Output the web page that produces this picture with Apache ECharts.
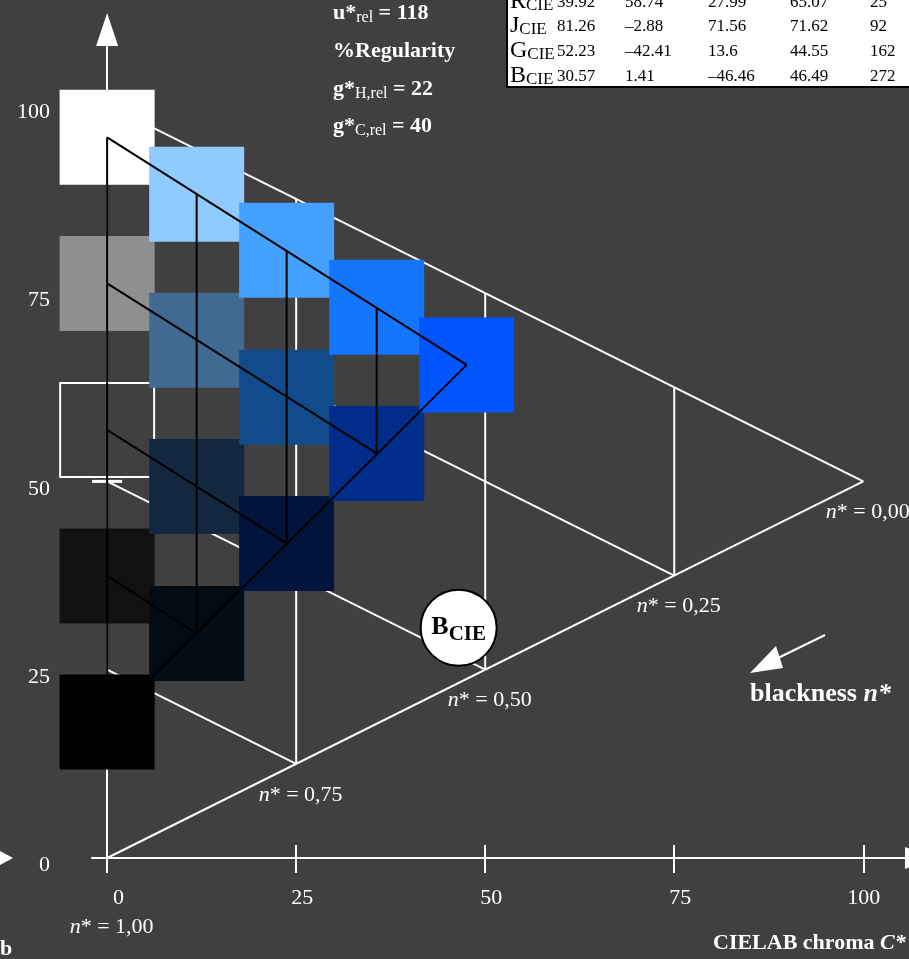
<!DOCTYPE html>
<html>
<head>
<meta charset="utf-8">
<style>
  html, body { margin: 0; padding: 0; background: #404040; }
  #chart { width: 909px; height: 959px; }
</style>
<script src="https://cdn.jsdelivr.net/npm/echarts@6/dist/echarts.min.js"></script>
</head>
<body>
<div id="chart"></div>
<script>
// ---- data ----
var chromaTicks = [0, 25, 50, 75, 100];
var lightnessTicks = [0, 25, 50, 75, 100];

// reference lattice (white), each segment [C*1, L*1, C*2, L*2]
var latticeSegments = [
  [0, 100, 100, 50],
  [0, 75, 75, 37.5],
  [0, 50, 50, 25],
  [0, 25, 25, 12.5],
  [0, 0, 100, 50],
  [25, 12.5, 25, 87.5],
  [50, 25, 50, 75],
  [75, 37.5, 75, 62.5]
];
var blacknessPoints = [[100, 50], [75, 37.5], [50, 25], [25, 12.5], [0, 0]];
var blacknessLabels = ['0,00', '0,25', '0,50', '0,75', '1,00'];
var midGreyMark = [[0, 50]];

// colour samples, one list per chroma column
var sampleChroma = [0, 11.84, 23.74, 35.65, 47.55];
var sampleLightness = [
  [95.68, 76.29, 56.84, 37.45, 18.06],
  [88.11, 68.73, 49.34, 29.81],
  [80.68, 61.16, 41.77],
  [73.11, 53.72],
  [65.47]
];
var sampleColors = [
  ['#ffffff', '#8f8f8f', null, '#111111', '#000000'],
  ['#8fcbff', '#416a93', '#13273f', '#020c12'],
  ['#44a1ff', '#124b8c', '#00143c'],
  ['#1476ff', '#002d8a'],
  ['#0055ff']
];

// CIE table
var tableNames = ['R', 'J', 'G', 'B'];
var tableL = [39.92, 81.26, 52.23, 30.57];
var tableA = [58.74, -2.88, -42.41, 1.41];
var tableB = [27.99, 71.56, 13.6, -46.46];
var tableC = [65.07, 71.62, 44.55, 46.49];
var tableH = [25, 92, 162, 272];

// ---- build ----
var serif = '"Liberation Serif", "Times New Roman", serif';
var bg = '#404040';

var squares = [];
sampleChroma.forEach(function (c, ci) {
  sampleLightness[ci].forEach(function (l, ri) {
    var col = sampleColors[ci][ri];
    squares.push({
      value: [c, l],
      symbolSize: col ? 95 : 94,
      itemStyle: col ? { color: col, opacity: 1 } : { color: bg, opacity: 1, borderColor: '#fff', borderWidth: 2 }
    });
  });
});

// black lattice through the sample centres
var sampleSegments = [];
for (var r = 0; r < 4; r++) {
  var last = 4 - r;
  sampleSegments.push([sampleChroma[0], sampleLightness[0][r], sampleChroma[last], sampleLightness[last][r]]);
}
for (var c = 0; c < 4; c++) {
  var colL = sampleLightness[c];
  sampleSegments.push([sampleChroma[c], colL[0], sampleChroma[c], colL[colL.length - 1]]);
}
sampleSegments.push([sampleChroma[0], sampleLightness[0][4], sampleChroma[4], sampleLightness[4][0]]);

function segmentRenderer (color) {
  return function (params, api) {
    var a = api.coord([api.value(0), api.value(1)]);
    var b = api.coord([api.value(2), api.value(3)]);
    return {
      type: 'line',
      shape: { x1: a[0], y1: a[1], x2: b[0], y2: b[1] },
      style: { stroke: color, lineWidth: 2 }
    };
  };
}

function fmt (v) {
  return String(v).replace('-', '\u2013');
}

var whiteRich = {
  b: { fontSize: 22, fontWeight: 'bold', fontFamily: serif, fill: '#fff' },
  bi: { fontSize: 22, fontWeight: 'bold', fontStyle: 'italic', fontFamily: serif, fill: '#fff' },
  s: { fontSize: 16, fontFamily: serif, fill: '#fff', padding: [9, 0, 0, 0] }
};

var graphics = [
  { type: 'text', x: 333, y: 13.5, style: { text: '{b|u*}{s|rel}{b| = 118}', rich: whiteRich, verticalAlign: 'middle' } },
  { type: 'text', x: 333, y: 51, style: { text: '{b|%Regularity}', rich: whiteRich, verticalAlign: 'middle' } },
  { type: 'text', x: 333, y: 89, style: { text: '{b|g*}{s|H,rel}{b| = 22}', rich: whiteRich, verticalAlign: 'middle' } },
  { type: 'text', x: 333, y: 126, style: { text: '{b|g*}{s|C,rel}{b| = 40}', rich: whiteRich, verticalAlign: 'middle' } },
  // table box
  { type: 'rect', shape: { x: 507, y: -30, width: 430, height: 117 }, style: { fill: '#fff', stroke: '#000', lineWidth: 2 } },
  // bottom / side labels
  { type: 'text', x: 0, y: 949, style: { text: '{b|b}', rich: whiteRich, verticalAlign: 'middle' } },
  { type: 'text', x: 713, y: 943, style: { text: '{b|CIELAB chroma }{bi|C*}', rich: whiteRich, verticalAlign: 'middle' } },
  { type: 'text', x: 750, y: 694, style: {
      text: '{b|blackness }{bi|n*}', verticalAlign: 'middle',
      rich: {
        b: { fontSize: 26, fontWeight: 'bold', fontFamily: serif, fill: '#fff' },
        bi: { fontSize: 26, fontWeight: 'bold', fontStyle: 'italic', fontFamily: serif, fill: '#fff' }
      } } },
  { type: 'line', shape: { x1: 825, y1: 635, x2: 776, y2: 659 }, style: { stroke: '#fff', lineWidth: 2 } },
  { type: 'polygon', shape: { points: [[750, 673], [776, 646], [783, 668]] }, style: { fill: '#fff' } },
  { type: 'polygon', shape: { points: [[0, 851], [13, 858], [0, 865]] }, style: { fill: '#fff' } }
];

var rowY = [2.5, 27, 52, 77];
var colX = [557, 625, 708, 790, 870];
var tableRich = {
  b: { fontSize: 24, fontFamily: serif, fill: '#000' },
  s: { fontSize: 17, fontFamily: serif, fill: '#000', padding: [8, 0, 0, 0] }
};
tableNames.forEach(function (name, i) {
  graphics.push({ type: 'text', x: 510, y: rowY[i] - 1, style: { text: '{b|' + name + '}{s|CIE}', rich: tableRich, verticalAlign: 'middle' } });
  [tableL[i], tableA[i], tableB[i], tableC[i], tableH[i]].forEach(function (v, k) {
    graphics.push({ type: 'text', x: colX[k], y: rowY[i], style: { text: fmt(v), fontSize: 17, fontFamily: serif, fill: '#000', verticalAlign: 'middle' } });
  });
});

var axisWhite = { color: '#fff', width: 2 };

var option = {
  backgroundColor: bg,
  animation: false,
  textStyle: { fontFamily: serif },
  grid: { left: 92, top: 29.5, width: 828, height: 828.5, containLabel: false, outerBoundsMode: 'none' },
  xAxis: [
    {
      type: 'value', min: -2, max: 107.5, position: 'bottom',
      axisLine: { show: true, symbol: ['none', 'triangle'], symbolSize: [22, 30], lineStyle: axisWhite },
      axisTick: { show: true, customValues: chromaTicks, length: 15, inside: false, lineStyle: axisWhite },
      axisLabel: { customValues: chromaTicks, color: '#fff', fontSize: 22, fontFamily: serif, margin: 29, align: 'right', padding: [0, -17, 0, 0] },
      splitLine: { show: false }
    },
    {
      type: 'value', min: -2, max: 107.5, position: 'bottom',
      axisLine: { show: false },
      axisTick: { show: true, customValues: chromaTicks, length: 13, inside: true, lineStyle: axisWhite },
      axisLabel: { show: false },
      splitLine: { show: false }
    }
  ],
  yAxis: {
    type: 'value', min: 0, max: 110,
    axisLine: { show: true, onZero: true, symbol: ['none', 'triangle'], symbolSize: [22, 33], lineStyle: axisWhite },
    axisTick: { show: false },
    axisLabel: {
      customValues: lightnessTicks, color: '#fff', fontSize: 22, fontFamily: serif, margin: 42,
      formatter: '{v|{value}}',
      rich: { v: { fontSize: 22, fontFamily: serif, color: '#fff', padding: [15, 0, 0, 0] } }
    },
    splitLine: { show: false }
  },
  series: [
    {
      type: 'custom', name: 'lattice', z: 1, silent: true,
      renderItem: segmentRenderer('#ffffff'),
      data: latticeSegments
    },
    {
      type: 'custom', name: 'blackness labels', z: 1, silent: true,
      renderItem: function (params, api) {
        var p = api.coord([api.value(0), api.value(1)]);
        var dy = api.value(0) === 0 ? 69.5 : 31;
        return {
          type: 'text',
          x: p[0] + 4.5, y: p[1] + dy,
          style: {
            text: '{i|n}{r|* = ' + blacknessLabels[params.dataIndex] + '}',
            align: 'center', verticalAlign: 'middle',
            rich: {
              i: { fontSize: 22, fontStyle: 'italic', fontFamily: serif, fill: '#fff' },
              r: { fontSize: 22, fontFamily: serif, fill: '#fff' }
            }
          }
        };
      },
      data: blacknessPoints
    },
    {
      type: 'scatter', name: 'samples', z: 2, silent: true,
      symbol: 'rect',
      itemStyle: { opacity: 1 },
      data: squares
    },
    {
      type: 'scatter', name: 'mid grey', z: 3, silent: true,
      symbol: 'rect', symbolSize: [30, 3],
      itemStyle: { color: '#fff', opacity: 1 },
      data: midGreyMark
    },
    {
      type: 'custom', name: 'sample lattice', z: 4, silent: true,
      renderItem: segmentRenderer('#000000'),
      data: sampleSegments
    },
    {
      type: 'scatter', name: 'BCIE', z: 5, silent: true,
      symbol: 'circle', symbolSize: 76,
      itemStyle: { color: '#fff', opacity: 1, borderColor: '#000', borderWidth: 2 },
      label: {
        show: true, position: 'inside',
        color: '#000', fontWeight: 'bold', fontSize: 26, fontFamily: serif,
        textBorderWidth: 0, textBorderColor: 'transparent',
        formatter: '{b|B}{s|CIE}',
        rich: {
          b: { fontSize: 26, fontWeight: 'bold', fontFamily: serif, color: '#000', textBorderWidth: 0 },
          s: { fontSize: 21, fontWeight: 'bold', fontFamily: serif, color: '#000', textBorderWidth: 0, padding: [14, 0, 0, 0] }
        }
      },
      data: [[tableC[3], tableL[3]]]
    }
  ],
  graphic: { elements: graphics }
};

var chart = echarts.init(document.getElementById('chart'));
chart.setOption(option);
window.addEventListener('resize', function () { chart.resize(); });
</script>
</body>
</html>
